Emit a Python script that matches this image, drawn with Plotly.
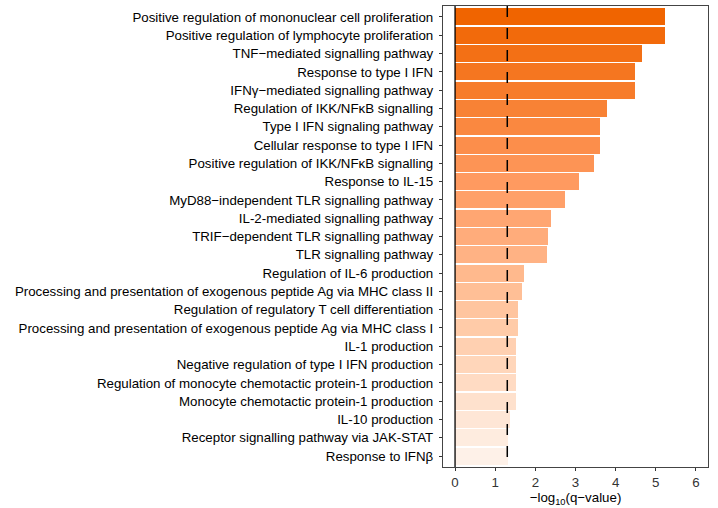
import plotly.graph_objects as go

terms = [
    "Positive regulation of mononuclear cell proliferation",
    "Positive regulation of lymphocyte proliferation",
    "TNF−mediated signalling pathway",
    "Response to type I IFN",
    "IFNγ−mediated signalling pathway",
    "Regulation of IKK/NFκB signalling",
    "Type I IFN signaling pathway",
    "Cellular response to type I IFN",
    "Positive regulation of IKK/NFκB signalling",
    "Response to IL-15",
    "MyD88−independent TLR signalling pathway",
    "IL-2-mediated signalling pathway",
    "TRIF−dependent TLR signalling pathway",
    "TLR signalling pathway",
    "Regulation of IL-6 production",
    "Processing and presentation of exogenous peptide Ag via MHC class II",
    "Regulation of regulatory T cell differentiation",
    "Processing and presentation of exogenous peptide Ag via MHC class I",
    "IL-1 production",
    "Negative regulation of type I IFN production",
    "Regulation of monocyte chemotactic protein-1 production",
    "Monocyte chemotactic protein-1 production",
    "IL-10 production",
    "Receptor signalling pathway via JAK-STAT",
    "Response to IFNβ",
]
neg_log10_q = [5.23, 5.23, 4.66, 4.48, 4.48, 3.79, 3.61, 3.61, 3.46, 3.09,
               2.73, 2.39, 2.31, 2.29, 1.71, 1.66, 1.56, 1.56, 1.51, 1.51,
               1.51, 1.51, 1.36, 1.33, 1.31]
x_ticks = [0, 1, 2, 3, 4, 5, 6]
threshold = 1.301  # -log10(0.05)

# colour gradient by rank
anchors = [(0, (240, 100, 0)), (9, (255, 154, 96)), (17, (255, 203, 168)), (24, (254, 241, 232))]
def col(i):
    for (a, ca), (b, cb) in zip(anchors[:-1], anchors[1:]):
        if a <= i <= b:
            t = (i - a) / (b - a)
            c = [round(ca[k] + (cb[k] - ca[k]) * t) for k in range(3)]
            return f"rgb({c[0]},{c[1]},{c[2]})"
colors = [col(i) for i in range(len(terms))]

fig = go.Figure()
fig.add_trace(go.Bar(
    x=neg_log10_q, y=terms, orientation="h",
    marker=dict(color=colors, line=dict(width=0)),
    width=0.93, showlegend=False,
))

fig.add_shape(type="line", xref="x", yref="paper", x0=0, x1=0, y0=0, y1=1,
              line=dict(color="black", width=1.3))
fig.add_shape(type="line", xref="x", yref="paper", x0=threshold, x1=threshold, y0=1, y1=0,
              line=dict(color="black", width=1.5, dash="11px,11px"))

fig.update_layout(
    width=718, height=508,
    margin=dict(l=443, r=10, t=6, b=41),
    paper_bgcolor="white", plot_bgcolor="white",
    font=dict(family="Liberation Sans, Arial, sans-serif", size=13.3, color="black"),
    bargap=0,
)
fig.update_xaxes(
    range=[-0.3, 6.3], tickvals=x_ticks, ticks="outside", ticklen=3, tickcolor="#333",
    showline=True, linecolor="#444", linewidth=1.2, mirror=True, showgrid=False, zeroline=False,
    tickfont=dict(size=13.3, color="#333"),
    title=dict(text="−log<sub>10</sub>(q−value)", font=dict(size=13.3, color="black"), standoff=3),
)
fig.update_yaxes(
    type="category", categoryorder="array", categoryarray=terms, range=[24.6, -0.6],
    ticks="outside", ticklen=3, tickcolor="#333", ticklabelstandoff=3,
    showline=True, linecolor="#444", linewidth=1.2, mirror=True, showgrid=False,
    tickfont=dict(size=13.3, color="black"),
)

fig.write_html("out.html")
